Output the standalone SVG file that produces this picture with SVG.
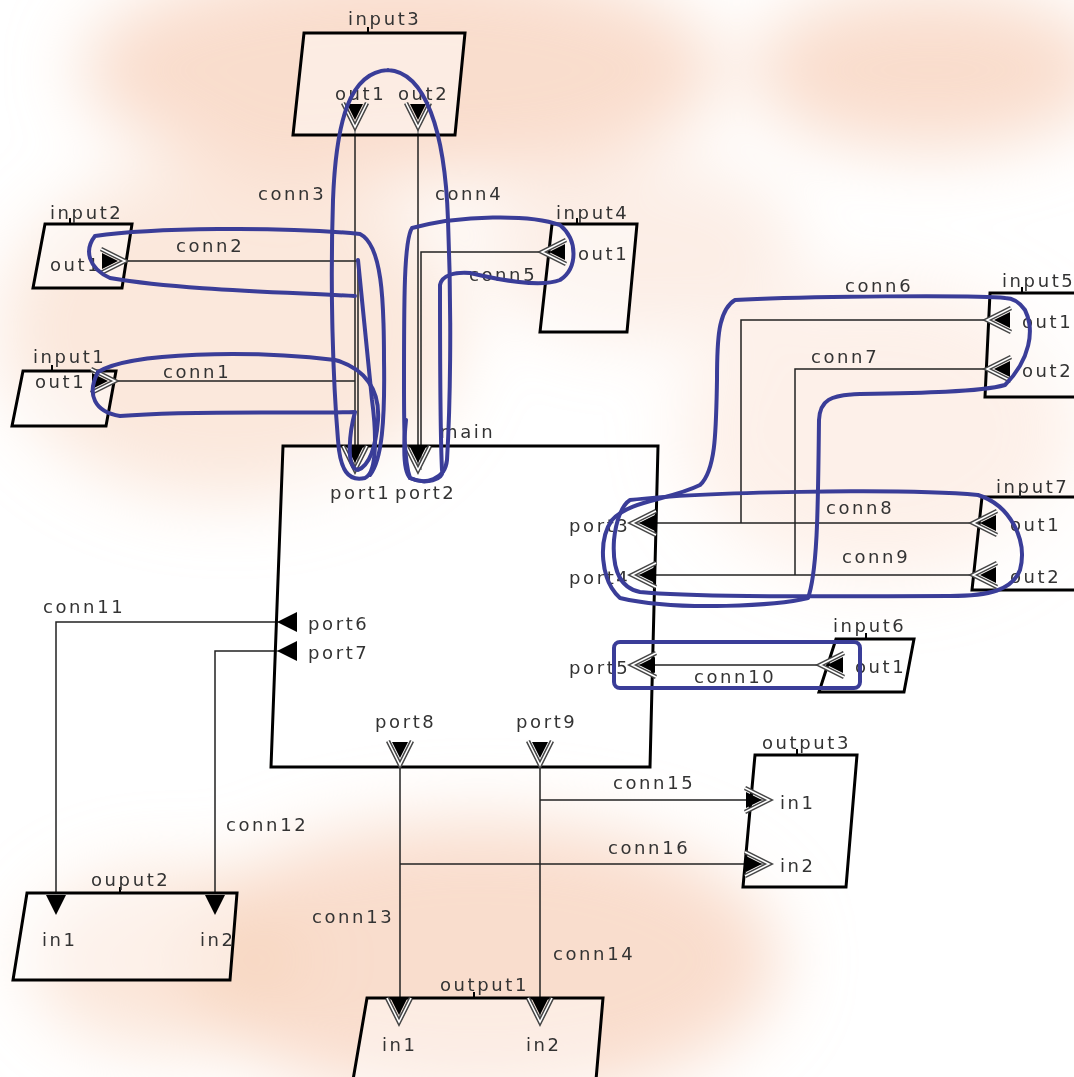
<svg xmlns="http://www.w3.org/2000/svg" xmlns:xlink="http://www.w3.org/1999/xlink" width="1074" height="1077" viewBox="0 0 1074 1077">
<style>
text{font-family:"DejaVu Sans","Liberation Sans",sans-serif;font-size:18px;fill:#333;letter-spacing:2.6px}
.box{fill:#fff;fill-opacity:0.45;stroke:#000;stroke-width:3}
.tick{stroke:#000;stroke-width:2}
.wire{stroke:#222;stroke-width:1.5;fill:none}
.ann{stroke:#3a3d98;stroke-width:4;fill:none;stroke-linecap:round;stroke-linejoin:round}
</style>
<defs>
<filter id="blur" x="-50%" y="-50%" width="200%" height="200%"><feGaussianBlur stdDeviation="35"/></filter>
<g id="dbl">
<polyline points="-24,-12 0,0 -24,12" fill="none" stroke="#444" stroke-width="4.5"/>
<polyline points="-24,-12 0,0 -24,12" fill="none" stroke="#fff" stroke-width="1.6"/>
<polygon points="-23,-8 -7,0 -23,8" fill="#000"/>
</g>
<polygon id="tri" points="0,0 20,-10 20,10" fill="#000"/>
</defs>
<rect width="1074" height="1077" fill="#fff"/>
<g id="background" filter="url(#blur)" fill="#f8d5c0">
<ellipse cx="400" cy="70" rx="320" ry="110" opacity="0.8"/>
<ellipse cx="930" cy="70" rx="180" ry="80" opacity="0.8"/>
<ellipse cx="230" cy="330" rx="230" ry="170" opacity="0.55"/>
<ellipse cx="480" cy="960" rx="300" ry="140" opacity="0.8"/>
<ellipse cx="170" cy="960" rx="140" ry="90" opacity="0.6"/>
<ellipse cx="880" cy="430" rx="200" ry="150" opacity="0.35"/>
<ellipse cx="640" cy="250" rx="160" ry="90" opacity="0.4"/>
</g>
<g id="connectors">
<polyline class="wire" points="355,127 355,470"/>
<polyline class="wire" points="125,261 358,261 358,470"/>
<polyline class="wire" points="115,381 355,381"/>
<polyline class="wire" points="418,127 418,470"/>
<polyline class="wire" points="542,252 421,252 421,470"/>
<polyline class="wire" points="987,320 741,320 741,523"/>
<polyline class="wire" points="987,369 795,369 795,575"/>
<polyline class="wire" points="973,523 632,523"/>
<polyline class="wire" points="973,575 632,575"/>
<polyline class="wire" points="820,665 632,665"/>
<polyline class="wire" points="283,622 56,622 56,893"/>
<polyline class="wire" points="283,651 215,651 215,893"/>
<polyline class="wire" points="400,765 400,1022"/>
<polyline class="wire" points="540,765 540,1022"/>
<polyline class="wire" points="540,800 769,800"/>
<polyline class="wire" points="400,864 769,864"/>
<text x="258" y="200">conn3</text>
<text x="435" y="200">conn4</text>
<text x="176" y="252">conn2</text>
<text x="469" y="281">conn5</text>
<text x="163" y="378">conn1</text>
<text x="845" y="292">conn6</text>
<text x="811" y="363">conn7</text>
<text x="826" y="514">conn8</text>
<text x="842" y="563">conn9</text>
<text x="694" y="683">conn10</text>
<text x="43" y="613">conn11</text>
<text x="226" y="831">conn12</text>
<text x="312" y="923">conn13</text>
<text x="553" y="960">conn14</text>
<text x="613" y="789">conn15</text>
<text x="608" y="854">conn16</text>
</g>
<g id="input3">
<polygon class="box" points="304,33 465,33 455,135 293,135"/>
<line class="tick" x1="368" y1="27" x2="368" y2="33"/>
<text x="348" y="25">input3</text>
<text x="335" y="100">out1</text>
<text x="398" y="100">out2</text>
<use href="#dbl" transform="translate(355,127) rotate(90)"/>
<use href="#dbl" transform="translate(418,127) rotate(90)"/>
</g>
<g id="input2">
<polygon class="box" points="45,224 132,224 122,288 33,288"/>
<line class="tick" x1="70" y1="218" x2="70" y2="224"/>
<text x="50" y="219">input2</text>
<text x="50" y="271">out1</text>
<use href="#dbl" transform="translate(125,261)"/>
</g>
<g id="input1">
<polygon class="box" points="23,371 116,371 106,426 12,426"/>
<line class="tick" x1="52" y1="365" x2="52" y2="371"/>
<text x="33" y="363">input1</text>
<text x="35" y="388">out1</text>
<use href="#dbl" transform="translate(115,381)"/>
</g>
<g id="input4">
<polygon class="box" points="552,224 637,224 627,332 540,332"/>
<line class="tick" x1="577" y1="218" x2="577" y2="224"/>
<text x="556" y="219">input4</text>
<text x="578" y="260">out1</text>
<use href="#dbl" transform="translate(542,252) rotate(180)"/>
</g>
<g id="main">
<polygon class="box" points="283,446 658,446 650,767 271,767"/>
<text x="440" y="438">main</text>
<use href="#dbl" transform="translate(355,470) rotate(90)"/>
<use href="#dbl" transform="translate(418,470) rotate(90)"/>
<text x="330" y="499">port1</text>
<text x="395" y="499">port2</text>
<use href="#dbl" transform="translate(632,523) rotate(180)"/>
<use href="#dbl" transform="translate(632,575) rotate(180)"/>
<use href="#dbl" transform="translate(632,665) rotate(180)"/>
<text x="569" y="532">port3</text>
<text x="569" y="584">port4</text>
<text x="569" y="674">port5</text>
<use href="#tri" transform="translate(277,622)"/>
<use href="#tri" transform="translate(277,651)"/>
<text x="308" y="630">port6</text>
<text x="308" y="659">port7</text>
<use href="#dbl" transform="translate(400,765) rotate(90)"/>
<use href="#dbl" transform="translate(540,765) rotate(90)"/>
<text x="375" y="728">port8</text>
<text x="516" y="728">port9</text>
</g>
<g id="input5">
<polygon class="box" points="990,293 1080,293 1080,397 985,397"/>
<line class="tick" x1="1022" y1="287" x2="1022" y2="293"/>
<text x="1002" y="287">input5</text>
<text x="1022" y="328">out1</text>
<text x="1022" y="377">out2</text>
<use href="#dbl" transform="translate(987,320) rotate(180)"/>
<use href="#dbl" transform="translate(987,369) rotate(180)"/>
</g>
<g id="input7">
<polygon class="box" points="982,497 1080,497 1080,590 972,590"/>
<line class="tick" x1="1020" y1="491" x2="1020" y2="497"/>
<text x="996" y="493">input7</text>
<text x="1010" y="531">out1</text>
<text x="1010" y="583">out2</text>
<use href="#dbl" transform="translate(973,523) rotate(180)"/>
<use href="#dbl" transform="translate(973,575) rotate(180)"/>
</g>
<g id="input6">
<polygon class="box" points="836,639 914,639 904,692 819,692"/>
<line class="tick" x1="866" y1="633" x2="866" y2="639"/>
<text x="833" y="632">input6</text>
<text x="855" y="673">out1</text>
<use href="#dbl" transform="translate(820,665) rotate(180)"/>
</g>
<g id="output3">
<polygon class="box" points="755,755 857,755 846,887 743,887"/>
<line class="tick" x1="797" y1="749" x2="797" y2="755"/>
<text x="762" y="749">output3</text>
<text x="780" y="809">in1</text>
<text x="780" y="872">in2</text>
<use href="#dbl" transform="translate(769,800)"/>
<use href="#dbl" transform="translate(769,864)"/>
</g>
<g id="ouput2">
<polygon class="box" points="27,893 237,893 230,980 13,980"/>
<line class="tick" x1="120" y1="887" x2="120" y2="893"/>
<text x="91" y="886">ouput2</text>
<text x="42" y="946">in1</text>
<text x="200" y="946">in2</text>
<use href="#tri" transform="translate(56,915) rotate(-90)"/>
<use href="#tri" transform="translate(215,915) rotate(-90)"/>
</g>
<g id="output1">
<polygon class="box" points="367,998 603,998 596,1080 353,1080"/>
<line class="tick" x1="474" y1="992" x2="474" y2="998"/>
<text x="440" y="991">output1</text>
<text x="382" y="1051">in1</text>
<text x="526" y="1051">in2</text>
<use href="#dbl" transform="translate(399,1022) rotate(90)"/>
<use href="#dbl" transform="translate(540,1022) rotate(90)"/>
</g>
<g id="annotations">
<path class="ann" d="M388,70 C350,72 336,120 333,200 C330,290 333,380 338,440 C340,470 348,482 365,478 C378,472 376,430 372,400 C366,340 362,300 358,260 M388,70 C425,72 445,130 448,220 C452,320 450,410 447,460 C445,480 425,485 410,478 C402,470 404,440 406,420"/>
<path class="ann" d="M95,236 C150,228 280,226 360,234 C382,245 384,300 384,360 C385,420 382,460 370,475 M95,236 C84,250 88,268 110,278 C180,290 280,292 355,296"/>
<path class="ann" d="M98,372 C130,352 250,350 335,360 C365,368 380,390 378,420 C376,445 370,465 358,470 C345,468 350,430 355,412 C300,414 200,410 120,416 C95,412 86,395 98,372"/>
<path class="ann" d="M442,470 C440,430 440,300 440,285 C442,275 455,272 470,273 C500,280 540,288 560,280 C578,268 578,240 560,225 C530,214 460,215 412,228 C404,240 404,300 404,380 C404,430 404,460 410,478 C425,485 445,480 442,470"/>
<path class="ann" d="M1005,298 C980,295 800,296 735,300 C718,310 717,340 717,380 C716,430 716,470 700,485 C670,500 630,500 612,520 C598,540 600,580 620,598 C680,612 780,605 808,598 C818,570 818,500 819,420 C820,400 830,395 860,394 C920,393 980,392 1005,385 C1030,360 1035,330 1025,310 C1018,300 1010,298 1005,298"/>
<path class="ann" d="M630,500 C700,492 900,488 978,495 C1010,505 1028,540 1020,570 C1012,590 990,596 950,596 C850,596 700,598 640,592 C620,588 612,570 614,540 C616,520 622,505 630,500"/>
<rect class="ann" x="614" y="642" width="246" height="46" rx="6"/>
</g>
</svg>
